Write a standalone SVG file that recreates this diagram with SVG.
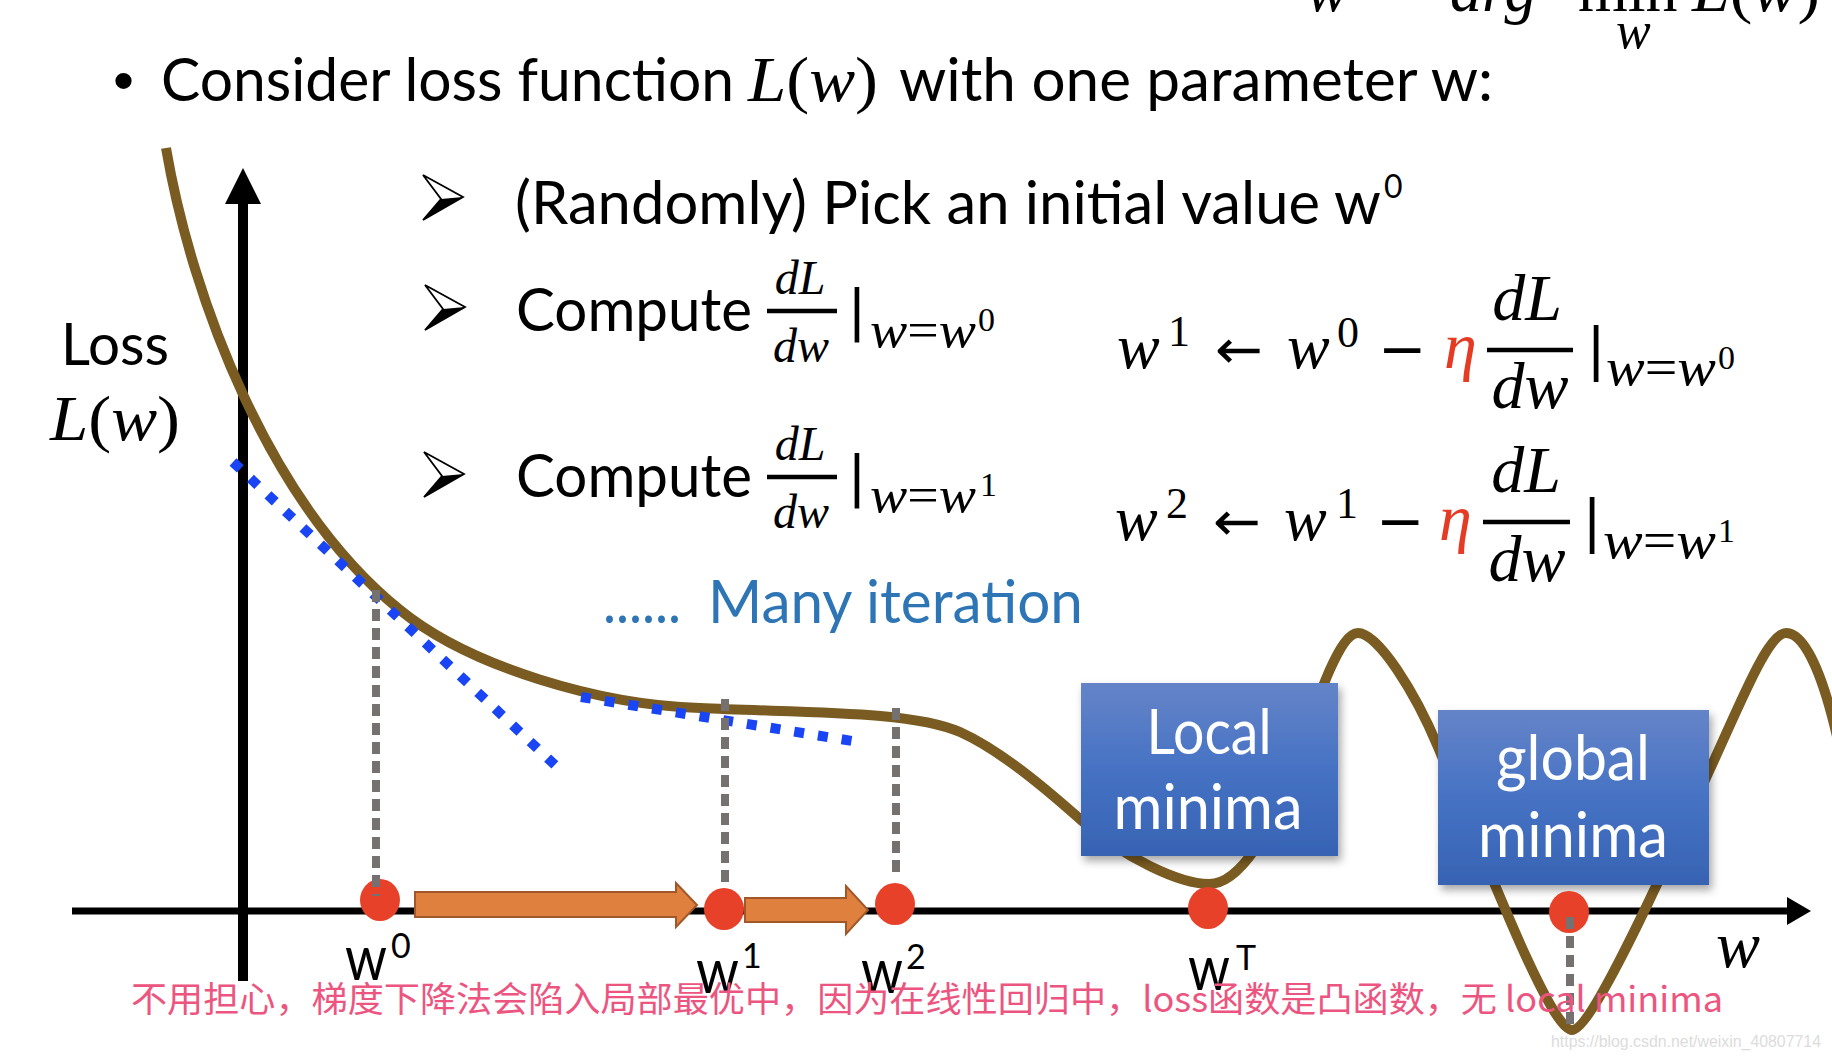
<svg xmlns="http://www.w3.org/2000/svg" width="1832" height="1060" viewBox="0 0 1832 1060">
<style>
.t{font-family:Lato,"Open Sans","Liberation Sans",sans-serif;fill:#000}
.m{font-family:"Liberation Serif","DejaVu Serif",serif;font-style:italic;fill:#000}
.u{font-style:normal}
.vb{font-family:"DejaVu Sans","Liberation Sans",sans-serif;font-style:normal;text-anchor:middle;fill:#000}
.ar{font-family:"DejaVu Sans","Liberation Sans",sans-serif;font-size:54px;fill:#000}
.mi{font-family:"DejaVu Sans","Liberation Sans",sans-serif;font-size:58px;fill:#000}
.bx{font-family:Lato,"Open Sans","Liberation Sans",sans-serif;fill:#fff;font-size:62px;text-anchor:middle}
.gd{stroke:#767171;stroke-width:8;stroke-dasharray:12 7;fill:none}
.bd{stroke:#1A45F5;stroke-width:10;stroke-dasharray:10 14;fill:none}
.dot{fill:#E8412A}
.oa{fill:#E0803F;stroke:#A0582A;stroke-width:2}
.bar{stroke:#000;stroke-width:4.5}
.eta{fill:#E53B24}
</style>
<defs>
<linearGradient id="bg" x1="0" y1="0" x2="0" y2="1">
<stop offset="0" stop-color="#6584C8"/>
<stop offset="0.5" stop-color="#4672C4"/>
<stop offset="1" stop-color="#3763B3"/>
</linearGradient>
<filter id="sh" x="-10%" y="-10%" width="130%" height="140%">
<feDropShadow dx="3" dy="5" stdDeviation="4" flood-color="#000" flood-opacity="0.35"/>
</filter>
<g id="bullet">
<polygon points="0,0 40,22 0,45 18,24" fill="#fff" stroke="#000" stroke-width="1.8"/>
<polygon points="18,24 40,22 0,45" fill="#000"/>
</g>
</defs>
<rect width="1832" height="1060" fill="#fff"/>

<!-- top-right formula (cut off) -->
<g id="title-formula">
<text class="m" x="1306" y="11" font-size="64">w</text>
<text class="m" x="1450" y="11" font-size="64">arg</text>
<text class="m u" x="1578" y="11" font-size="64">min</text>
<text class="m" x="1692" y="11" font-size="64" textLength="128" lengthAdjust="spacingAndGlyphs">L<tspan class="u">(</tspan>w<tspan class="u">)</tspan></text>
<text class="m" x="1616" y="48" font-size="52">w</text>
</g>

<!-- heading -->
<g id="heading">
<text x="113" y="101" font-family="Liberation Sans,sans-serif" font-size="60">•</text>
<text class="t" x="161" y="101" font-size="60" textLength="573" lengthAdjust="spacingAndGlyphs">Consider loss function</text>
<text class="m" x="748" y="101" font-size="64" textLength="130" lengthAdjust="spacingAndGlyphs">L<tspan class="u">(</tspan>w<tspan class="u">)</tspan></text>
<text class="t" x="899" y="101" font-size="60" textLength="594" lengthAdjust="spacingAndGlyphs">with one parameter w:</text>
</g>

<!-- step 1 -->
<g id="step1">
<use href="#bullet" x="423" y="175"/>
<text class="t" x="515" y="224" font-size="60" textLength="866" lengthAdjust="spacingAndGlyphs">(Randomly) Pick an initial value w</text>
<text class="t" x="1384" y="198" font-size="32">0</text>
</g>

<!-- step 2 -->
<g id="step2">
<use href="#bullet" x="425" y="285"/>
<text class="t" x="516" y="331" font-size="60" textLength="236" lengthAdjust="spacingAndGlyphs">Compute</text>
<text class="m" x="800" y="294" font-size="48" text-anchor="middle">dL</text>
<line class="bar" x1="767" y1="311" x2="837" y2="311"/>
<text class="m" x="801" y="362" font-size="48" text-anchor="middle">dw</text>
<text class="vb" x="857" y="329" font-size="56">|</text>
<text class="m" x="870" y="347" font-size="50" textLength="106" lengthAdjust="spacingAndGlyphs">w<tspan class="u">=</tspan>w</text>
<text class="m u" x="978" y="331" font-size="34">0</text>
</g>

<!-- step 3 -->
<g id="step3">
<use href="#bullet" x="424" y="452"/>
<text class="t" x="516" y="497" font-size="60" textLength="236" lengthAdjust="spacingAndGlyphs">Compute</text>
<text class="m" x="800" y="460" font-size="48" text-anchor="middle">dL</text>
<line class="bar" x1="767" y1="477" x2="837" y2="477"/>
<text class="m" x="801" y="528" font-size="48" text-anchor="middle">dw</text>
<text class="vb" x="857" y="495" font-size="56">|</text>
<text class="m" x="870" y="512" font-size="50" textLength="106" lengthAdjust="spacingAndGlyphs">w<tspan class="u">=</tspan>w</text>
<text class="m u" x="980" y="496" font-size="34">1</text>
</g>

<!-- update formula 1 -->
<g id="update1">
<text class="m" x="1117" y="368" font-size="64">w</text>
<text class="m u" x="1168" y="346" font-size="44">1</text>
<text class="ar" x="1215" y="368" textLength="48" lengthAdjust="spacingAndGlyphs">←</text>
<text class="m" x="1287" y="368" font-size="64">w</text>
<text class="m u" x="1337" y="347" font-size="44">0</text>
<text class="mi" x="1378" y="369">−</text>
<text class="m eta" x="1444" y="368" font-size="66">η</text>
<text class="m" x="1527" y="320" font-size="66" text-anchor="middle">dL</text>
<line class="bar" x1="1487" y1="350" x2="1573" y2="350"/>
<text class="m" x="1530" y="408" font-size="66" text-anchor="middle">dw</text>
<text class="vb" x="1596" y="368" font-size="57">|</text>
<text class="m" x="1606" y="385" font-size="52" textLength="110" lengthAdjust="spacingAndGlyphs">w<tspan class="u">=</tspan>w</text>
<text class="m u" x="1718" y="369" font-size="34">0</text>
</g>

<!-- update formula 2 -->
<g id="update2">
<text class="m" x="1115" y="540" font-size="64">w</text>
<text class="m u" x="1166" y="518" font-size="44">2</text>
<text class="ar" x="1213" y="540" textLength="48" lengthAdjust="spacingAndGlyphs">←</text>
<text class="m" x="1284" y="540" font-size="64">w</text>
<text class="m u" x="1336" y="518" font-size="44">1</text>
<text class="mi" x="1376" y="541">−</text>
<text class="m eta" x="1439" y="540" font-size="66">η</text>
<text class="m" x="1526" y="492" font-size="66" text-anchor="middle">dL</text>
<line class="bar" x1="1483" y1="522" x2="1570" y2="522"/>
<text class="m" x="1527" y="581" font-size="66" text-anchor="middle">dw</text>
<text class="vb" x="1592" y="540" font-size="57">|</text>
<text class="m" x="1603" y="558" font-size="52" textLength="113" lengthAdjust="spacingAndGlyphs">w<tspan class="u">=</tspan>w</text>
<text class="m u" x="1718" y="542" font-size="34">1</text>
</g>

<!-- many iteration -->
<g id="many-iteration">
<text class="t" x="603" y="623" font-size="60" style="fill:#2E75B6" textLength="78" lengthAdjust="spacingAndGlyphs">......</text>
<text class="t" x="708" y="623" font-size="60" style="fill:#2E75B6" textLength="375" lengthAdjust="spacingAndGlyphs">Many iteration</text>
</g>

<!-- axis labels -->
<g id="axis-labels">
<text class="t" x="61" y="365" font-size="58" textLength="108" lengthAdjust="spacingAndGlyphs">Loss</text>
<text class="m" x="50" y="440" font-size="64" textLength="130" lengthAdjust="spacingAndGlyphs">L<tspan class="u">(</tspan>w<tspan class="u">)</tspan></text>
<text class="m" x="1716" y="967" font-size="66">w</text>
</g>

<!-- axes -->
<g id="axes">
<line x1="243" y1="981" x2="243" y2="200" stroke="#000" stroke-width="10"/>
<polygon points="243,168 261,204 225,204" fill="#000"/>
<line x1="72" y1="911" x2="1790" y2="911" stroke="#000" stroke-width="7"/>
<polygon points="1811,911 1787,897 1787,925" fill="#000"/>
</g>

<!-- loss curve -->
<g id="loss-curve">
<path d="M166,148 C192,300 270,505 400,610 C470,667 600,705 700,708 C800,713 910,710 960,732 C1000,750 1045,788 1081,820 C1124,858 1180,884 1209,884 C1240,884 1272,830 1293,770 C1314,710 1338,633 1358,633 C1378,633 1415,692 1438,747 C1484,857 1550,1030 1572,1030 C1594,1030 1681,832 1711,767 C1741,702 1768,633 1786,633 C1806,633 1825,680 1840,750" fill="none" stroke="#7A5C22" stroke-width="10"/>
</g>

<!-- boxes -->
<g id="local-minima">
<rect x="1081" y="683" width="257" height="173" fill="url(#bg)" filter="url(#sh)"/>
<text class="bx" x="1209" y="754" textLength="125" lengthAdjust="spacingAndGlyphs">Local</text>
<text class="bx" x="1208" y="829" textLength="189" lengthAdjust="spacingAndGlyphs">minima</text>
</g>
<g id="global-minima">
<rect x="1438" y="710" width="271" height="175" fill="url(#bg)" filter="url(#sh)"/>
<text class="bx" x="1573" y="780" textLength="154" lengthAdjust="spacingAndGlyphs">global</text>
<text class="bx" x="1573" y="857" textLength="190" lengthAdjust="spacingAndGlyphs">minima</text>
</g>

<!-- points -->
<g id="points">
<ellipse class="dot" cx="380" cy="900" rx="20" ry="21"/>
<ellipse class="dot" cx="724" cy="909" rx="20" ry="21"/>
<ellipse class="dot" cx="895" cy="904" rx="20" ry="21"/>
<ellipse class="dot" cx="1208" cy="908" rx="20" ry="21"/>
<ellipse class="dot" cx="1569" cy="912" rx="20" ry="21"/>
</g>

<!-- connectors -->
<g id="connectors">
<line class="bd" x1="233" y1="462" x2="556" y2="766"/>
<line class="bd" x1="581" y1="697" x2="852" y2="741"/>
<line class="gd" x1="376" y1="590" x2="376" y2="896"/>
<line class="gd" x1="725" y1="699" x2="725" y2="883"/>
<line class="gd" x1="896" y1="708" x2="896" y2="878"/>
<line class="gd" x1="1570" y1="917" x2="1570" y2="1028"/>
<polygon class="oa" points="415,892 676,892 676,883 697,905 676,927 676,917 415,917"/>
<polygon class="oa" points="745,898 846,898 846,886 868,910 846,934 846,922 745,922"/>
</g>

<!-- w labels -->
<g id="w-labels">
<text class="t" x="345" y="980" font-size="62" textLength="42" lengthAdjust="spacingAndGlyphs">w</text>
<text class="t" x="391" y="958" font-size="34">0</text>
<text class="t" x="696" y="993" font-size="62" textLength="43" lengthAdjust="spacingAndGlyphs">w</text>
<text class="t" x="742" y="968" font-size="34">1</text>
<text class="t" x="861" y="993" font-size="62" textLength="42" lengthAdjust="spacingAndGlyphs">w</text>
<text class="t" x="906" y="969" font-size="34">2</text>
<text class="t" x="1188" y="990" font-size="62" textLength="42" lengthAdjust="spacingAndGlyphs">w</text>
<text class="t" x="1236" y="970" font-size="34">T</text>
</g>

<!-- annotation -->
<g id="note">
<text x="131" y="1012" font-family="'Noto Sans CJK SC','Noto Sans',sans-serif" font-size="35" fill="#EC5580" textLength="1592" lengthAdjust="spacingAndGlyphs">不用担心，梯度下降法会陷入局部最优中，因为在线性回归中，loss函数是凸函数，无 local minima</text>
<text x="1551" y="1047" font-family="'Liberation Sans',sans-serif" font-size="16" fill="#dcdcdc" textLength="270" lengthAdjust="spacingAndGlyphs">https://blog.csdn.net/weixin_40807714</text>
</g>
</svg>
